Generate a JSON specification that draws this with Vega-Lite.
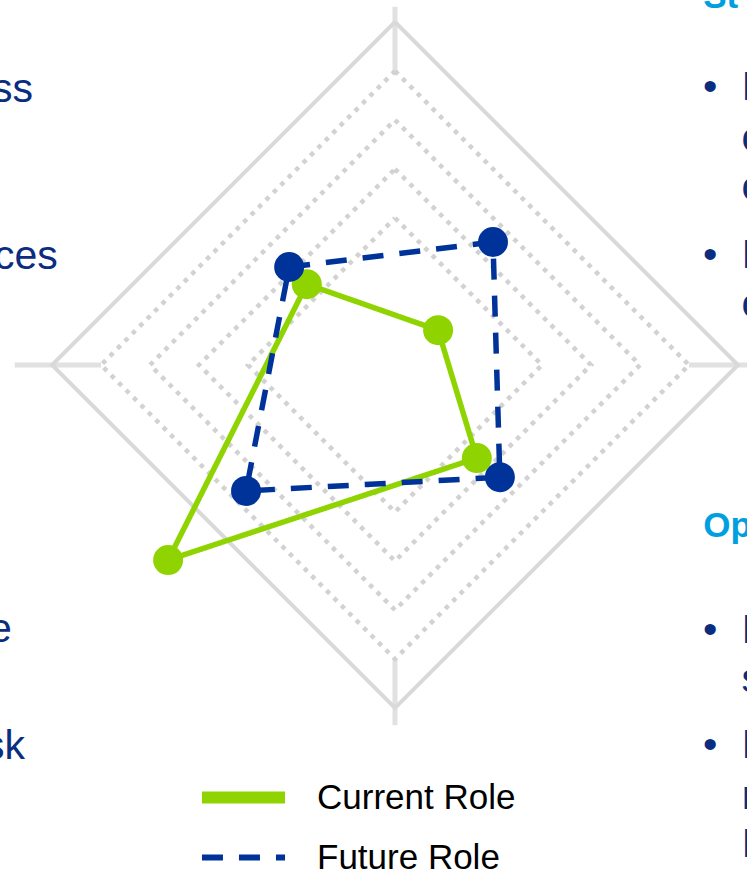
{
  "$schema": "https://vega.github.io/schema/vega-lite/v6.json",
  "width": 747,
  "height": 870,
  "autosize": "none",
  "padding": 0,
  "background": "white",
  "config": {
    "view": {"stroke": null},
    "font": "Liberation Sans",
    "legend": {
      "orient": "none",
      "legendX": 226,
      "legendY": 780,
      "title": null,
      "padding": 0,
      "symbolOffset": 0,
      "symbolType": "M-5,0H5",
      "symbolSize": 276,
      "symbolFillColor": "transparent",
      "labelFont": "Liberation Sans",
      "labelFontSize": 35,
      "labelColor": "#000000",
      "labelOffset": 56,
      "rowPadding": 18,
      "labelLimit": 400
    }
  },
  "datasets": {
    "grid": [
      {"level": 3, "v": 0, "x": 0, "y": 3}, {"level": 3, "v": 1, "x": 3, "y": 0}, {"level": 3, "v": 2, "x": 0, "y": -3}, {"level": 3, "v": 3, "x": -3, "y": 0}, {"level": 3, "v": 4, "x": 0, "y": 3},
      {"level": 4, "v": 0, "x": 0, "y": 4}, {"level": 4, "v": 1, "x": 4, "y": 0}, {"level": 4, "v": 2, "x": 0, "y": -4}, {"level": 4, "v": 3, "x": -4, "y": 0}, {"level": 4, "v": 4, "x": 0, "y": 4},
      {"level": 5, "v": 0, "x": 0, "y": 5}, {"level": 5, "v": 1, "x": 5, "y": 0}, {"level": 5, "v": 2, "x": 0, "y": -5}, {"level": 5, "v": 3, "x": -5, "y": 0}, {"level": 5, "v": 4, "x": 0, "y": 5},
      {"level": 6, "v": 0, "x": 0, "y": 6}, {"level": 6, "v": 1, "x": 6, "y": 0}, {"level": 6, "v": 2, "x": 0, "y": -6}, {"level": 6, "v": 3, "x": -6, "y": 0}, {"level": 6, "v": 4, "x": 0, "y": 6},
      {"level": 7, "v": 0, "x": 0, "y": 7}, {"level": 7, "v": 1, "x": 7, "y": 0}, {"level": 7, "v": 2, "x": 0, "y": -7}, {"level": 7, "v": 3, "x": -7, "y": 0}, {"level": 7, "v": 4, "x": 0, "y": 7}
    ],
    "spokes": [
      {"x": 0, "y": 6, "x2": 0, "y2": 7.31},
      {"x": 0, "y": -6, "x2": 0, "y2": -7.35},
      {"x": -6, "y": 0, "x2": -7.76, "y2": 0},
      {"x": 6, "y": 0, "x2": 7.4, "y2": 0}
    ],
    "roles": [
      {"series": "Current Role", "k": 1, "x": -1.8, "y": 1.65},
      {"series": "Current Role", "k": 2, "x": 0.88, "y": 0.71},
      {"series": "Current Role", "k": 3, "x": 1.67, "y": -1.9},
      {"series": "Current Role", "k": 4, "x": -4.63, "y": -3.98},
      {"series": "Current Role", "k": 5, "x": -1.8, "y": 1.65},
      {"series": "Future Role", "k": 1, "x": -2.16, "y": 2.0},
      {"series": "Future Role", "k": 2, "x": 2.0, "y": 2.51},
      {"series": "Future Role", "k": 3, "x": 2.14, "y": -2.29},
      {"series": "Future Role", "k": 4, "x": -3.04, "y": -2.57},
      {"series": "Future Role", "k": 5, "x": -2.16, "y": 2.0}
    ],
    "dots": [
      {"series": "Future Role", "x": 2.14, "y": -2.29},
      {"series": "Current Role", "x": -1.8, "y": 1.65},
      {"series": "Current Role", "x": 0.88, "y": 0.71},
      {"series": "Current Role", "x": 1.67, "y": -1.9},
      {"series": "Current Role", "x": -4.63, "y": -3.98},
      {"series": "Future Role", "x": -2.16, "y": 2.0},
      {"series": "Future Role", "x": 2.0, "y": 2.51},
      {"series": "Future Role", "x": -3.04, "y": -2.57}
    ],
    "texts": [
      {"kind": "left", "text": "ss", "x": -7.39, "y": 5.37},
      {"kind": "left", "text": "ces", "x": -6.88, "y": 1.96},
      {"kind": "left", "text": "e", "x": -7.82, "y": -5.65},
      {"kind": "left", "text": "sk", "x": -7.55, "y": -8.04},
      {"kind": "right", "text": "D", "x": 7.075, "y": 5.41},
      {"kind": "right", "text": "o", "x": 7.07, "y": 4.36},
      {"kind": "right", "text": "o", "x": 7.07, "y": 3.36},
      {"kind": "right", "text": "D", "x": 7.075, "y": 1.98},
      {"kind": "right", "text": "o", "x": 7.07, "y": 0.98},
      {"kind": "right", "text": "D", "x": 7.075, "y": -5.67},
      {"kind": "right", "text": "s", "x": 7.07, "y": -6.67},
      {"kind": "right", "text": "D", "x": 7.075, "y": -8.02},
      {"kind": "right", "text": "m", "x": 7.075, "y": -9.06},
      {"kind": "right", "text": "D", "x": 7.075, "y": -10.04},
      {"kind": "bullet", "text": "•", "x": 6.43, "y": 5.41},
      {"kind": "bullet", "text": "•", "x": 6.43, "y": 1.98},
      {"kind": "bullet", "text": "•", "x": 6.43, "y": -5.67},
      {"kind": "bullet", "text": "•", "x": 6.43, "y": -8.02},
      {"kind": "head", "text": "St", "x": 6.29, "y": 7.29},
      {"kind": "head", "text": "Op", "x": 6.29, "y": -3.51}
    ]
  },
  "encoding": {
    "x": {"field": "x", "type": "quantitative", "scale": {"domain": [-8.0612, 7.1837], "nice": false, "zero": false}, "axis": null},
    "y": {"field": "y", "type": "quantitative", "scale": {"domain": [-10.3061, 7.449], "nice": false, "zero": false}, "axis": null}
  },
  "layer": [
    {
      "data": {"name": "spokes"},
      "mark": {"type": "rule", "color": "#d4d4d4", "strokeWidth": 5, "opacity": 0.7, "strokeCap": "butt"},
      "encoding": {"x2": {"field": "x2"}, "y2": {"field": "y2"}}
    },
    {
      "data": {"name": "grid"},
      "transform": [{"filter": "datum.level < 7"}],
      "mark": {"type": "line", "color": "#d2d2d2", "strokeWidth": 4.5, "strokeDash": [4.5, 6], "strokeCap": "butt"},
      "encoding": {"detail": {"field": "level", "type": "nominal"}, "order": {"field": "v", "type": "quantitative"}}
    },
    {
      "data": {"name": "grid"},
      "transform": [{"filter": "datum.level == 7"}],
      "mark": {"type": "line", "color": "#d9d9d9", "strokeWidth": 4, "strokeJoin": "miter"},
      "encoding": {"detail": {"field": "level", "type": "nominal"}, "order": {"field": "v", "type": "quantitative"}}
    },
    {
      "data": {"name": "roles"},
      "mark": {"type": "line", "strokeWidth": 5.5, "strokeCap": "butt", "strokeJoin": "round"},
      "encoding": {
        "order": {"field": "k", "type": "quantitative"},
        "color": {
          "field": "series", "type": "nominal",
          "scale": {"domain": ["Current Role", "Future Role"], "range": ["#8fd400", "#003399"]},
          "legend": {
            "encode": {
              "symbols": {
                "update": {
                  "strokeWidth": {"signal": "datum.value === 'Current Role' ? 12 : 6"},
                  "strokeCap": {"value": "butt"},
                  "fill": {"value": "transparent"}
                }
              }
            }
          }
        },
        "strokeDash": {
          "field": "series", "type": "nominal",
          "scale": {"domain": ["Current Role", "Future Role"], "range": [[1, 0], [21, 16]]}
        }
      }
    },
    {
      "data": {"name": "dots"},
      "mark": {"type": "circle", "size": 900, "opacity": 1},
      "encoding": {
        "fill": {
          "field": "series", "type": "nominal",
          "scale": {"domain": ["Current Role", "Future Role"], "range": ["#8fd400", "#003399"]},
          "legend": null
        }
      }
    },
    {
      "data": {"name": "texts"},
      "transform": [{"filter": "datum.kind == 'left'"}],
      "mark": {"type": "text", "align": "right", "baseline": "alphabetic", "fontSize": 41, "color": "#0b2d80"},
      "encoding": {"text": {"field": "text"}}
    },
    {
      "data": {"name": "texts"},
      "transform": [{"filter": "datum.kind == 'right'"}],
      "mark": {"type": "text", "align": "left", "baseline": "alphabetic", "fontSize": 41, "color": "#0b2d80"},
      "encoding": {"text": {"field": "text"}}
    },
    {
      "data": {"name": "texts"},
      "transform": [{"filter": "datum.kind == 'bullet'"}],
      "mark": {"type": "text", "align": "center", "baseline": "alphabetic", "fontSize": 41, "color": "#0b2d80"},
      "encoding": {"text": {"field": "text"}}
    },
    {
      "data": {"name": "texts"},
      "transform": [{"filter": "datum.kind == 'head'"}],
      "mark": {"type": "text", "align": "left", "baseline": "alphabetic", "fontSize": 35, "fontWeight": "bold", "color": "#00a0e0"},
      "encoding": {"text": {"field": "text"}}
    }
  ]
}
